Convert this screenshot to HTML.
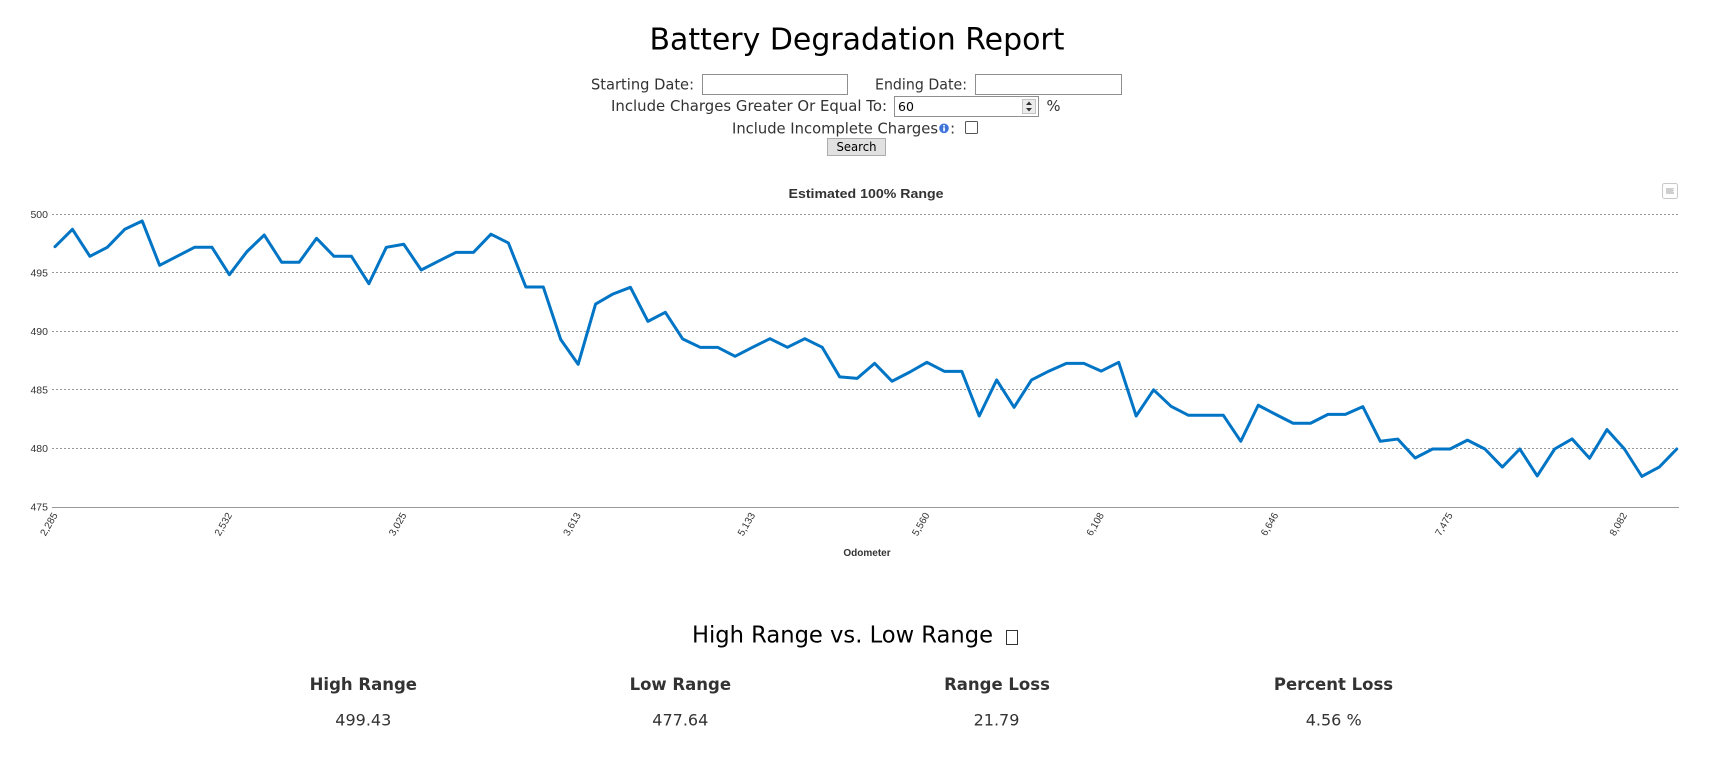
<!DOCTYPE html>
<html>
<head>
<meta charset="utf-8">
<style>
  html, body { margin: 0; padding: 0; background: #ffffff; }
  body { width: 1722px; height: 761px; overflow: hidden; }
  svg { display: block; }
  .ui { font-family: "DejaVu Sans", "Liberation Sans", sans-serif; fill: #333; }
  .ch { font-family: "Liberation Sans", "DejaVu Sans", sans-serif; }
</style>
</head>
<body>
<svg width="1722" height="761" viewBox="0 0 1722 761" xmlns="http://www.w3.org/2000/svg">
  <!-- Page title -->
  <text x="857" y="49.3" text-anchor="middle" font-family="DejaVu Sans, Liberation Sans, sans-serif" font-size="30" fill="#000" textLength="415" lengthAdjust="spacingAndGlyphs">Battery Degradation Report</text>

  <!-- Row 1 -->
  <text class="ui" x="591" y="89.3" font-size="15.5" textLength="103" lengthAdjust="spacingAndGlyphs">Starting Date:</text>
  <rect x="702.5" y="74.5" width="145" height="20" fill="#fff" stroke="#8f8f8f" stroke-width="1"/>
  <text class="ui" x="875" y="89.3" font-size="15.5" textLength="92" lengthAdjust="spacingAndGlyphs">Ending Date:</text>
  <rect x="975.5" y="74.5" width="146" height="20" fill="#fff" stroke="#8f8f8f" stroke-width="1"/>

  <!-- Row 2 -->
  <text class="ui" x="611" y="111" font-size="15.5" textLength="276" lengthAdjust="spacingAndGlyphs">Include Charges Greater Or Equal To:</text>
  <rect x="894.5" y="96.5" width="144" height="20" fill="#fff" stroke="#8f8f8f" stroke-width="1"/>
  <text x="898" y="111" font-family="DejaVu Sans, sans-serif" font-size="12.5" fill="#000">60</text>
  <rect x="1022.5" y="99.5" width="13" height="14" fill="#ececec" stroke="#c4c4c4" stroke-width="1"/>
  <polygon points="1026,105 1032,105 1029,101.5" fill="#333"/>
  <polygon points="1026,108 1032,108 1029,111.5" fill="#333"/>
  <text class="ui" x="1046.5" y="111" font-size="15.5" textLength="14" lengthAdjust="spacingAndGlyphs">%</text>

  <!-- Row 3 -->
  <text class="ui" x="732" y="133.3" font-size="15.5" textLength="206" lengthAdjust="spacingAndGlyphs">Include Incomplete Charges</text>
  <circle cx="944" cy="128.3" r="4.8" fill="#3f74db"/>
  <rect x="943.2" y="127.3" width="1.7" height="4" fill="#fff"/>
  <rect x="943.2" y="125" width="1.7" height="1.5" fill="#fff"/>
  <text class="ui" x="950" y="133.3" font-size="15.5">:</text>
  <rect x="965.5" y="121.5" width="12" height="12" rx="1" fill="#fff" stroke="#555" stroke-width="1"/>

  <!-- Search button -->
  <rect x="827.5" y="138.5" width="58" height="17" fill="#e1e1e1" stroke="#adadad" stroke-width="1"/>
  <text x="856.5" y="151" text-anchor="middle" font-family="DejaVu Sans, sans-serif" font-size="12.5" fill="#000" textLength="40" lengthAdjust="spacingAndGlyphs">Search</text>

  <!-- Chart -->
  <text class="ch" x="866" y="198" text-anchor="middle" font-size="13" font-weight="bold" fill="#333" textLength="155" lengthAdjust="spacingAndGlyphs">Estimated 100% Range</text>

  <!-- export button -->
  <rect x="1662.5" y="183.5" width="15" height="15" rx="2" fill="#fff" stroke="#c8c8c8" stroke-width="1"/>
  <rect x="1666" y="188" width="8" height="6" fill="#cfcfcf"/>
  <rect x="1673" y="189" width="1.5" height="1" fill="#fff"/>
  <rect x="1673" y="191" width="1.5" height="1" fill="#fff"/>

  <!-- gridlines -->
  <g stroke="#999" stroke-width="1" stroke-dasharray="2,2" fill="none">
    <line x1="52" y1="214.5" x2="1679" y2="214.5"/>
    <line x1="52" y1="272.5" x2="1679" y2="272.5"/>
    <line x1="52" y1="331.5" x2="1679" y2="331.5"/>
    <line x1="52" y1="389.5" x2="1679" y2="389.5"/>
    <line x1="52" y1="448.5" x2="1679" y2="448.5"/>
  </g>
  <line x1="52" y1="507.5" x2="1679" y2="507.5" stroke="#999" stroke-width="1"/>

  <!-- y labels -->
  <g class="ch" font-size="10.5" fill="#333" text-anchor="end">
    <text x="48" y="218">500</text>
    <text x="48" y="276.5">495</text>
    <text x="48" y="335">490</text>
    <text x="48" y="393.5">485</text>
    <text x="48" y="452">480</text>
    <text x="48" y="510.5">475</text>
  </g>

  <!-- x labels -->
  <g class="ch" font-size="10" fill="#333" text-anchor="end">
    <text transform="translate(58,515) rotate(-60)">2,285</text>
    <text transform="translate(232.4,515) rotate(-60)">2,532</text>
    <text transform="translate(406.8,515) rotate(-60)">3,025</text>
    <text transform="translate(581.1,515) rotate(-60)">3,613</text>
    <text transform="translate(755.5,515) rotate(-60)">5,133</text>
    <text transform="translate(929.9,515) rotate(-60)">5,560</text>
    <text transform="translate(1104.3,515) rotate(-60)">6,108</text>
    <text transform="translate(1278.7,515) rotate(-60)">6,646</text>
    <text transform="translate(1453,515) rotate(-60)">7,475</text>
    <text transform="translate(1627.4,515) rotate(-60)">8,082</text>
  </g>
  <text class="ch" x="867" y="556" text-anchor="middle" font-size="10" font-weight="bold" fill="#333">Odometer</text>

  <!-- series -->
  <g transform="translate(55,6064.3) scale(17.438,-11.7)">
    <polyline fill="none" stroke="#0074c5" stroke-width="3" stroke-linejoin="round" stroke-linecap="round" vector-effect="non-scaling-stroke"
      points="0,497.23 1,498.72 2,496.41 3,497.18 4,498.72 5,499.43 6,495.64 7,496.41 8,497.18 9,497.18 10,494.84 11,496.8 12,498.23 13,495.9 14,495.9 15,497.95 16,496.41 17,496.41 18,494.07 19,497.18 20,497.44 21,495.24 22,496 23,496.75 24,496.75 25,498.3 26,497.55 27,493.79 28,493.79 29,489.3 30,487.18 31,492.33 32,493.19 33,493.76 34,490.85 35,491.62 36,489.34 37,488.63 38,488.63 39,487.86 40,488.63 41,489.37 42,488.63 43,489.37 44,488.63 45,486.1 46,485.98 47,487.26 48,485.73 49,486.5 50,487.35 51,486.58 52,486.58 53,482.76 54,485.84 55,483.5 56,485.84 57,486.6 58,487.26 59,487.26 60,486.6 61,487.35 62,482.76 63,485 64,483.59 65,482.82 66,482.82 67,482.82 68,480.6 69,483.68 70,482.9 71,482.14 72,482.14 73,482.9 74,482.9 75,483.56 76,480.6 77,480.79 78,479.17 79,479.94 80,479.94 81,480.7 82,479.94 83,478.4 84,479.94 85,477.64 86,479.94 87,480.8 88,479.15 89,481.6 90,479.94 91,477.6 92,478.4 93,479.94"/>
  </g>

  <!-- Bottom section -->
  <text x="692" y="642.3" font-family="DejaVu Sans, Liberation Sans, sans-serif" font-size="23" fill="#000" textLength="301" lengthAdjust="spacingAndGlyphs">High Range vs. Low Range</text>
  <rect x="1006.5" y="630.5" width="11" height="14" fill="none" stroke="#333" stroke-width="1"/>

  <g font-family="DejaVu Sans, Liberation Sans, sans-serif" font-weight="bold" font-size="16.5" fill="#333" text-anchor="middle">
    <text x="363.3" y="690">High Range</text>
    <text x="680.3" y="690">Low Range</text>
    <text x="997" y="690">Range Loss</text>
    <text x="1333.5" y="690">Percent Loss</text>
  </g>
  <g font-family="DejaVu Sans, Liberation Sans, sans-serif" font-size="16" fill="#333" text-anchor="middle">
    <text x="363.3" y="725.3">499.43</text>
    <text x="680.3" y="725.3">477.64</text>
    <text x="996.5" y="725.3">21.79</text>
    <text x="1333.7" y="725.3">4.56 %</text>
  </g>
</svg>
</body>
</html>
